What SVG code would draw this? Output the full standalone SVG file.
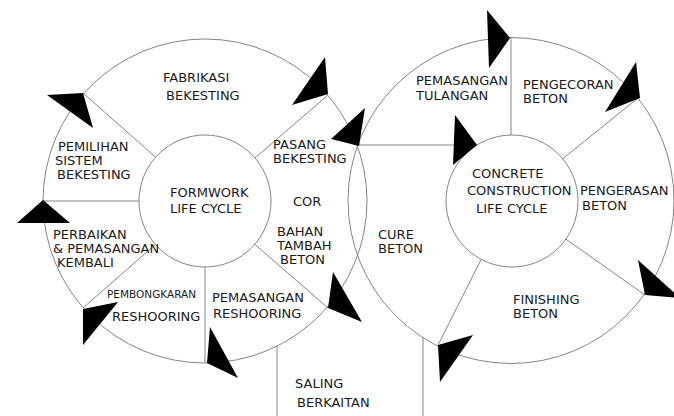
<svg xmlns="http://www.w3.org/2000/svg" width="674" height="416" viewBox="0 0 674 416">
<style>
.ln{fill:none;stroke:#858585;stroke-width:1}
.ar{fill:#000;stroke:none}
text{font-family:"DejaVu Sans","Liberation Sans",sans-serif;font-size:13px;fill:#1a1a1a}
.sm{font-size:10.5px}
</style>
<rect width="674" height="416" fill="#ffffff"/>
<g id="formwork-cycle">
<circle class="ln" cx="205" cy="201" r="162"/>
<circle class="ln" cx="205" cy="201" r="66"/>
<text x="170" y="197">FORMWORK</text>
<text x="170" y="213">LIFE CYCLE</text>
</g>
<g id="concrete-cycle">
<circle class="ln" cx="511" cy="200.5" r="163"/>
<circle class="ln" cx="512" cy="201" r="66"/>
<text x="472" y="178">CONCRETE</text>
<text x="467" y="195">CONSTRUCTION</text>
<text x="476" y="213">LIFE CYCLE</text>
</g>
<g id="connectors">
<line class="ln" x1="83" y1="93" x2="155.6" y2="157.2"/>
<line class="ln" x1="328" y1="95" x2="255" y2="158"/>
<line class="ln" x1="43" y1="201" x2="139" y2="201"/>
<line class="ln" x1="83" y1="308" x2="155.4" y2="244.5"/>
<line class="ln" x1="205" y1="363" x2="205" y2="267"/>
<line class="ln" x1="328" y1="308" x2="254.8" y2="244.3"/>
<line class="ln" x1="358" y1="145" x2="477" y2="145"/>
<line class="ln" x1="511" y1="37.5" x2="511" y2="135"/>
<line class="ln" x1="638" y1="98" x2="562.4" y2="159"/>
<line class="ln" x1="645" y1="295" x2="565" y2="238.5"/>
<line class="ln" x1="438" y1="345" x2="481.2" y2="259.4"/>
<line class="ln" x1="277" y1="346" x2="277" y2="416"/>
<line class="ln" x1="423" y1="337" x2="423" y2="416"/>
<polygon class="ar" points="47,95 83,93 93,128"/>
<polygon class="ar" points="325,57 328,94 292,105"/>
<polygon class="ar" points="17,223 43,200 70,223"/>
<polygon class="ar" points="83,309 118,302 83,345"/>
<polygon class="ar" points="210,327 207,363 238,378"/>
<polygon class="ar" points="333,272 328,308 362,322"/>
<polygon class="ar" points="331,139 365,108 359,146"/>
<polygon class="ar" points="487,10 510,38 489,68"/>
<polygon class="ar" points="636,62 640,98 605,112"/>
<polygon class="ar" points="455,115 477,145 453,165"/>
<polygon class="ar" points="638,260 645,295 680,298"/>
<polygon class="ar" points="438,345 473,335 440,382"/>
</g>
<g id="label-fabrikasi"><text x="163" y="82">FABRIKASI</text><text x="166" y="100">BEKESTING</text></g>
<g id="label-pemilihan"><text x="58" y="151">PEMILIHAN</text><text x="55" y="165">SISTEM</text><text x="57" y="179">BEKESTING</text></g>
<g id="label-pasang"><text x="273" y="149">PASANG</text><text x="273" y="163">BEKESTING</text></g>
<g id="label-cor"><text x="293" y="206">COR</text></g>
<g id="label-bahan"><text x="277" y="236">BAHAN</text><text x="277" y="250">TAMBAH</text><text x="280" y="264">BETON</text></g>
<g id="label-perbaikan"><text x="53" y="239">PERBAIKAN</text><text x="53" y="253">&amp; PEMASANGAN</text><text x="57" y="267">KEMBALI</text></g>
<g id="label-pembongkaran"><text class="sm" x="107" y="298">PEMBONGKARAN</text><text x="112" y="321">RESHOORING</text></g>
<g id="label-pemasangan-reshooring"><text x="212" y="302">PEMASANGAN</text><text x="213" y="318">RESHOORING</text></g>
<g id="label-saling"><text x="295" y="388">SALING</text><text x="297" y="407">BERKAITAN</text></g>
<g id="label-tulangan"><text x="416" y="85">PEMASANGAN</text><text x="416" y="100">TULANGAN</text></g>
<g id="label-pengecoran"><text x="523" y="89">PENGECORAN</text><text x="523" y="103">BETON</text></g>
<g id="label-pengerasan"><text x="580" y="195">PENGERASAN</text><text x="582" y="210">BETON</text></g>
<g id="label-cure"><text x="378" y="239">CURE</text><text x="378" y="253">BETON</text></g>
<g id="label-finishing"><text x="513" y="304">FINISHING</text><text x="513" y="318">BETON</text></g>
</svg>
